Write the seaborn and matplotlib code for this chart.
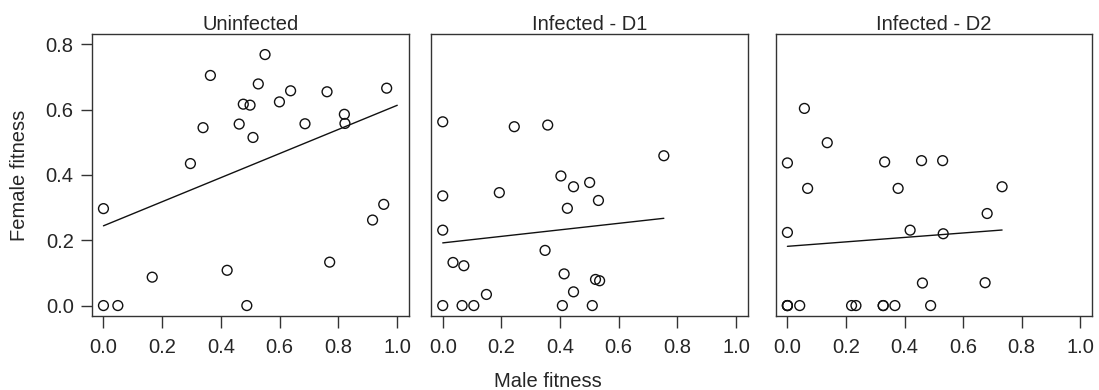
import numpy as np
import pandas as pd
import matplotlib
matplotlib.use("Agg")
import matplotlib.pyplot as plt
import seaborn as sns

panels = ["Uninfected", "Infected - D1", "Infected - D2"]

uninf_male = [0.0, 0.0, 0.049, 0.166, 0.296, 0.339, 0.364, 0.421, 0.462, 0.476,
              0.499, 0.488, 0.509, 0.527, 0.550, 0.599, 0.637, 0.686, 0.761, 0.770,
              0.820, 0.822, 0.916, 0.954, 0.964]
uninf_female = [0.297, 0.0, 0.0, 0.087, 0.435, 0.545, 0.705, 0.108, 0.556, 0.617,
                0.614, 0.0, 0.515, 0.679, 0.769, 0.624, 0.658, 0.557, 0.655, 0.133,
                0.586, 0.558, 0.262, 0.310, 0.666]

d1_male = [0.0, 0.0, 0.0, 0.0, 0.035, 0.072, 0.066, 0.106, 0.149, 0.193,
           0.244, 0.349, 0.358, 0.403, 0.408, 0.414, 0.425, 0.446, 0.446, 0.501,
           0.510, 0.521, 0.535, 0.531, 0.754]
d1_female = [0.563, 0.336, 0.231, 0.0, 0.132, 0.122, 0.0, 0.0, 0.034, 0.346,
             0.548, 0.169, 0.553, 0.397, 0.0, 0.097, 0.298, 0.364, 0.042, 0.377,
             0.0, 0.080, 0.076, 0.322, 0.459]

d2_male = [0.0, 0.0, 0.0, 0.0, 0.0, 0.042, 0.058, 0.069, 0.136, 0.219, 0.234,
           0.327, 0.327, 0.332, 0.367, 0.378, 0.419, 0.458, 0.461, 0.489, 0.530,
           0.532, 0.675, 0.682, 0.733]
d2_female = [0.0, 0.0, 0.0, 0.437, 0.224, 0.0, 0.604, 0.359, 0.499, 0.0, 0.0,
             0.0, 0.0, 0.440, 0.0, 0.359, 0.231, 0.444, 0.069, 0.0, 0.444,
             0.220, 0.070, 0.282, 0.364]

x_ticks = [0.0, 0.2, 0.4, 0.6, 0.8, 1.0]
y_ticks = [0.0, 0.2, 0.4, 0.6, 0.8]

frames = []
for name, xs, ys in [(panels[0], uninf_male, uninf_female),
                     (panels[1], d1_male, d1_female),
                     (panels[2], d2_male, d2_female)]:
    frames.append(pd.DataFrame({"group": name, "male": xs, "female": ys}))
df = pd.concat(frames, ignore_index=True)

sns.set_style("white")
plt.rcParams["font.family"] = ["Liberation Sans", "DejaVu Sans"]
TXT = "#262626"
FS = 14.5

fig = plt.figure(figsize=(10.99, 3.90), dpi=100)
W, H = 1099, 390
boxes = [(91.7, 409.0), (431.0, 747.7), (775.7, 1092.0)]
top, bottom = 34, 316
axes = []
for (l, r) in boxes:
    ax = fig.add_axes([l / W, 1 - bottom / H, (r - l) / W, (bottom - top) / H])
    axes.append(ax)

for i, (ax, name) in enumerate(zip(axes, panels)):
    sub = df[df["group"] == name]
    sns.scatterplot(data=sub, x="male", y="female", ax=ax, s=50,
                    facecolor="none", edgecolor="#111111", linewidth=1.0,
                    legend=False, zorder=3)
    if i == 0:
        ax.set_xlim(0, 1)
        sns.regplot(data=sub, x="male", y="female", ax=ax, scatter=False,
                    ci=None, truncate=False,
                    line_kws=dict(color="#111111", lw=1.0))
    else:
        sns.regplot(data=sub, x="male", y="female", ax=ax, scatter=False,
                    ci=None, truncate=True,
                    line_kws=dict(color="#111111", lw=1.0))
    ax.set_xlim(-0.04, 1.04)
    ax.set_ylim(-0.032, 0.832)
    ax.set_xticks(x_ticks)
    ax.set_xticklabels([f"{v:.1f}" for v in x_ticks], fontsize=FS, color=TXT)
    if i == 0:
        ax.set_yticks(y_ticks)
        ax.set_yticklabels([f"{v:.1f}" for v in y_ticks], fontsize=FS, color=TXT)
        ax.tick_params(axis="y", direction="out", length=8, width=1.0,
                       color="#333333", left=True, pad=5)
    else:
        ax.set_yticks([])
    ax.tick_params(axis="x", direction="out", length=8.5, width=1.0,
                   color="#333333", bottom=True, pad=7)
    ax.set_xlabel("")
    ax.set_ylabel("")
    ax.set_title(name, fontsize=FS, color=TXT, pad=3)
    for sp in ax.spines.values():
        sp.set_color("#333333")
        sp.set_linewidth(1.0)

fig.text(548 / W, 1 - 387 / H, "Male fitness", ha="center", va="baseline",
         fontsize=FS, color=TXT)
fig.text(20 / W, 1 - 175 / H, "Female fitness", ha="center", va="center",
         rotation=90, fontsize=FS, color=TXT)

fig.savefig("out.png", dpi=100)
